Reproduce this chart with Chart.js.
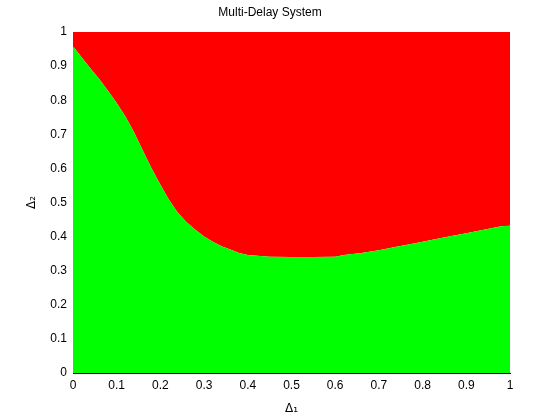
<!DOCTYPE html>
<html>
<head>
<meta charset="utf-8">
<script src="https://cdn.jsdelivr.net/npm/chart.js@4"></script>
<style>
  html, body { margin: 0; padding: 0; background: #fff; }
  #wrap { width: 560px; height: 420px; }
</style>
</head>
<body>
<div id="wrap"><canvas id="chart" width="560" height="420"></canvas></div>
<script>
// stability boundary: below = stable (green), above = unstable (red)
const delta1 = [0, 0.02, 0.04, 0.06, 0.08, 0.10, 0.12, 0.14, 0.16, 0.18, 0.20, 0.22, 0.24, 0.26, 0.28, 0.30,
  0.32, 0.34, 0.36, 0.38, 0.40, 0.45, 0.50, 0.55, 0.60, 0.62, 0.66, 0.70, 0.74, 0.78, 0.82, 0.86, 0.90, 0.94, 0.98, 1.00];
const boundary = [0.958, 0.925, 0.893, 0.862, 0.828, 0.792, 0.752, 0.705, 0.652, 0.60, 0.552, 0.507, 0.47, 0.442, 0.42, 0.40,
  0.385, 0.372, 0.362, 0.352, 0.346, 0.341, 0.34, 0.34, 0.341, 0.346, 0.352, 0.36, 0.37, 0.38, 0.39, 0.40, 0.41, 0.42, 0.43, 0.432];
const xTicks = [0, 0.1, 0.2, 0.3, 0.4, 0.5, 0.6, 0.7, 0.8, 0.9, 1];
const yTicks = [0, 0.1, 0.2, 0.3, 0.4, 0.5, 0.6, 0.7, 0.8, 0.9, 1];

const points = delta1.map((x, i) => ({ x: x, y: boundary[i] }));
const FONT = { family: '"Liberation Sans", Arial, sans-serif', size: 12 };
const AXIS_FONT = { family: '"DejaVu Sans", "Liberation Sans", sans-serif', size: 12 };

// title is drawn by hand so it sits where the original one does
const titlePlugin = {
    id: 'plotTitle',
    afterDraw(chart) {
        const ctx = chart.ctx;
        ctx.save();
        ctx.fillStyle = '#000';
        ctx.font = '12px "Liberation Sans", Arial, sans-serif';
        ctx.textAlign = 'center';
        ctx.textBaseline = 'middle';
        ctx.fillText('Multi-Delay System', 270, 13);
        ctx.restore();
    }
};

new Chart(document.getElementById('chart'), {
    type: 'line',
    data: {
        datasets: [{
            data: points,
            fill: 'start',
            backgroundColor: '#00ff00',
            borderWidth: 0,
            pointRadius: 0,
            tension: 0
        }, {
            data: points,
            fill: 'end',
            backgroundColor: '#ff0000',
            borderWidth: 0,
            pointRadius: 0,
            tension: 0
        }]
    },
    options: {
        responsive: false,
        animation: false,
        layout: { padding: { left: 0, top: 32, right: 50, bottom: 0 } },
        plugins: {
            legend: { display: false },
            tooltip: { enabled: false }
        },
        scales: {
            x: {
                type: 'linear',
                min: 0,
                max: 1,
                afterBuildTicks: scale => { scale.ticks = xTicks.map(v => ({ value: v })); },
                afterFit: scale => { scale.height = 47; },
                grid: { display: false, drawTicks: false },
                border: { display: true, color: '#000', width: 1 },
                ticks: {
                    color: '#000',
                    font: FONT,
                    padding: 5,
                    maxRotation: 0,
                    autoSkip: false,
                    callback: v => String(+v.toFixed(1))
                },
                title: {
                    display: true,
                    text: 'Δ₁',
                    color: '#000',
                    font: AXIS_FONT,
                    padding: { top: 0, bottom: 4 }
                }
            },
            y: {
                type: 'linear',
                min: 0,
                max: 1,
                afterBuildTicks: scale => { scale.ticks = yTicks.map(v => ({ value: v })); },
                afterFit: scale => { scale.width = 73; },
                grid: { display: false, drawTicks: false },
                border: { display: true, color: '#000', width: 1 },
                ticks: {
                    color: '#000',
                    font: FONT,
                    padding: 6,
                    autoSkip: false,
                    callback: v => String(+v.toFixed(1))
                },
                title: {
                    display: true,
                    text: 'Δ₂',
                    color: '#000',
                    font: AXIS_FONT,
                    padding: { top: 25, bottom: 0 }
                }
            }
        }
    },
    plugins: [titlePlugin]
});
</script>
</body>
</html>
